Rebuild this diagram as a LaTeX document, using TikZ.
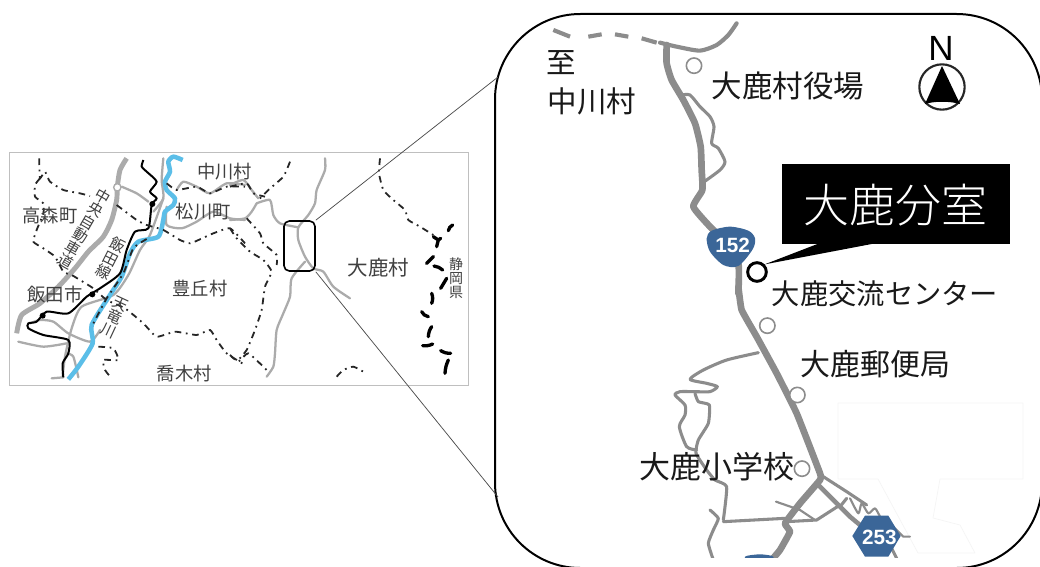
\documentclass[tikz,border=0pt]{standalone}
\usepackage{fontspec}
\setmainfont{Noto Sans CJK JP}
\newfontfamily\lightcjk{Noto Sans CJK JP Light}
\newfontfamily\latinbold{Liberation Sans}[BoldFont={* Bold}]
\newfontfamily\latinreg{Liberation Sans}
\newdimen\pxd
\newcommand{\pxfont}[1]{\pxd=#1pt \pxd=0.75\pxd \fontsize{\the\pxd}{\the\pxd}\selectfont}
\definecolor{roadgray}{HTML}{8C8C8C}
\definecolor{lightroad}{HTML}{ABABAB}
\definecolor{riverblue}{HTML}{5BBEE8}
\definecolor{shieldblue}{HTML}{3B6698}
\definecolor{ghost}{HTML}{F5F5F5}
\tikzset{
  x=0.75pt,y=-0.75pt,
  road/.style={draw=roadgray,line width=2.3pt,line join=round,line cap=round},
  thick road/.style={draw=roadgray,line width=5pt,line join=round,line cap=round},
  small road/.style={draw=lightroad,line width=1.7pt,line join=round,line cap=round},
  highway/.style={draw=lightroad,line width=3.7pt,line join=round},
  border line/.style={draw=black!85,line width=1.35pt,dash pattern=on 5pt off 3.5pt on 1.3pt off 3.5pt},
  pref line/.style={draw=black,line width=2.5pt,line cap=round},
  river/.style={draw=riverblue,line width=3.4pt,line join=round},
  rail/.style={draw=black,line width=1.5pt,line join=round},
  station/.style={circle,fill=black,inner sep=0pt,minimum size=4.5pt},
  facility/.style={circle,draw=roadgray,fill=white,line width=1.2pt,inner sep=0pt,minimum size=11.5pt},
  small label/.style={text=black!75,inner sep=0pt},
  big label/.style={text=black!90,inner sep=0pt},
  zoom line/.style={draw=black!70,line width=0.55pt},
  shield text/.style={text=white,inner sep=0pt,font=\latinbold\bfseries\fontsize{15.5pt}{15.5pt}\selectfont},
}
\begin{document}
\begin{tikzpicture}
\useasboundingbox (0,0) rectangle (1040,567);
\fill[white] (0,0) rectangle (1040,567);
% small map frame
\draw[draw=black!25,line width=0.7pt] (9,152) rectangle (468,385);
% small map, left part in zoom coordinates
\begin{scope}[shift={(0,140)},x=0.25pt,y=-0.25pt]
  \draw[highway] plot[smooth,tension=0.4] coordinates {(380,55)(360,90)(352,140)(350,180)(335,240)(310,290)(265,335)(225,385)(175,440)(120,490)(65,525)(50,580)};
  \draw[small road] plot[smooth,tension=0.4] coordinates {(365,140)(410,160)(445,185)};
  \draw[small road] plot[smooth,tension=0.4] coordinates {(490,55)(485,120)(490,175)(460,215)};
  \draw[small road] plot[smooth,tension=0.4] coordinates {(500,200)(500,255)(545,265)(590,245)(640,215)(690,235)(735,240)};
  \draw[small road] plot[smooth,tension=0.4] coordinates {(490,175)(450,285)(420,330)(385,405)(340,465)(245,500)(215,565)(195,650)(188,710)};
  \draw[small road] plot[smooth,tension=0.4] coordinates {(90,550)(120,540)(160,545)(205,580)(270,605)(300,570)};
  \draw[small road] plot[smooth,tension=0.4] coordinates {(55,605)(130,620)(200,610)};
  \draw[small road] (155,715) -- (190,712);
  \draw[small road] plot[smooth,tension=0.4] coordinates {(200,640)(220,650)(235,712)};
  \draw[small road] plot[smooth,tension=0.4] coordinates {(530,150)(550,125)(590,140)(630,160)(680,130)(735,135)};
  \node[circle,draw=lightroad,fill=white,line width=1pt,inner sep=0pt,minimum size=5.5pt] (icjunction) at (352,142) {};
  \draw[river] plot[smooth,tension=0.4] coordinates {(548,60)(520,50)(505,65)(510,95)(495,125)(500,150)(525,175)(520,195)(495,215)(490,240)(475,290)(415,305)(390,340)(365,410)(330,465)(275,555)(278,610)(235,680)(205,718)};
  \draw[rail] plot[smooth,tension=0.4] coordinates {(430,60)(425,80)(440,95)(470,125)(450,155)(470,175)(455,195)(445,265)(405,275)(380,330)(360,400)(300,445)(260,470)(205,520)(140,515)(110,545)(85,550)(85,565)(130,585)(205,600)(205,640)(188,670)(190,712)};
  \node[station] (st1) at (457,192) {};
  \node[station] (st2) at (277,463) {};
  \node[station] (st3) at (128,527) {};
  \draw[border line] plot[smooth,tension=0.3] coordinates {(118,55)(118,75)(120,115)(135,95)(150,125)(190,150)(240,160)(270,168)};
  \draw[border line] plot[smooth,tension=0.3] coordinates {(120,115)(105,135)(105,170)(130,190)(130,220)(110,270)(100,305)(130,325)(165,350)(190,395)(215,405)(240,420)(280,445)(320,480)(375,505)(430,550)(470,590)(525,575)(590,585)(630,570)(650,600)(680,640)(735,675)};
  \draw[border line] plot[smooth,tension=0.3] coordinates {(350,195)(410,240)(440,255)(490,270)(540,300)(570,310)(600,298)(640,280)(690,265)(735,310)};
  \draw[border line] plot[smooth,tension=0.3] coordinates {(500,130)(530,150)(590,140)(630,160)(680,140)(735,140)};
  \draw[border line] plot[smooth,tension=0.3] coordinates {(440,297)(400,325)(370,400)(320,475)(280,550)};
  \draw[border line] plot[smooth,tension=0.3] coordinates {(295,620)(340,625)(355,660)(310,660)(315,690)(335,715)};
  \node[small label,font=\pxfont{18.3}] (lTaka) at (150,228) {高森町};
  \node[small label,font=\pxfont{18.3}] (lMatsu) at (610,215) {松川町};
  \node[small label,font=\pxfont{18.3}] (lToyo) at (600,445) {豊丘村};
  \node[small label,font=\pxfont{18.3}] (lIida) at (165,465) {飯田市};
  \node[small label,font=\pxfont{18.3}] (lTaka2) at (553,702) {喬木村};
  \node[small label,font=\pxfont{15},rotate=-30,align=center] (lExp) at (253,265) {中\\央\\自\\動\\車\\道};
  \node[small label,font=\pxfont{15},rotate=-27,align=center] (lRail) at (332,355) {飯\\田\\線};
  \node[small label,font=\pxfont{15},rotate=-25,align=center] (lTen) at (343,532) {天\\竜\\川};
\end{scope}
% small map, right part in zoom coordinates
\begin{scope}[shift={(230,140)},x=0.25pt,y=-0.25pt]
  \draw[small road] plot[smooth,tension=0.4] coordinates {(285,55)(285,90)(260,150)(255,190)(235,225)(205,262)(205,300)(225,350)(250,385)(280,395)(310,440)(360,475)};
  \draw[small road] plot[smooth,tension=0.4] coordinates {(80,190)(120,180)(130,225)(150,250)(205,262)};
  \draw[small road] plot[smooth,tension=0.4] coordinates {(225,365)(185,415)(180,470)(160,520)(140,570)(135,640)(130,680)(110,710)};
  \draw[small road] plot[smooth,tension=0.4] coordinates {(0,240)(45,235)(65,215)(80,190)};
  \draw[small road] plot[smooth,tension=0.4] coordinates {(0,135)(40,120)(65,150)(85,175)};
  \draw[border line] plot[smooth,tension=0.3] coordinates {(180,65)(160,110)(115,150)(80,185)};
  \draw[border line] plot[smooth,tension=0.3] coordinates {(0,140)(50,130)(70,160)(105,170)};
  \draw[border line] plot[smooth,tension=0.3] coordinates {(50,235)(90,280)(100,310)(140,345)(140,375)};
  \draw[border line] plot[smooth,tension=0.3] coordinates {(0,265)(20,295)(60,335)(100,360)(125,395)(105,440)(95,510)(75,570)(50,630)(25,660)};
  \draw[border line] plot[smooth,tension=0.3] coordinates {(0,645)(25,665)(55,640)(110,690)};
  \draw[border line] plot[smooth,tension=0.3] coordinates {(320,710)(340,690)(370,680)(400,695)};
  \draw[border line] plot[smooth,tension=0.3] coordinates {(450,55)(447,100)(460,150)(490,180)(525,210)(535,240)(570,260)(610,285)};
  \draw[pref line] (668,255) to[bend right=25] (655,272);
  \draw[pref line] (610,290) -- (625,300) -- (620,320);
  \draw[pref line] (625,300) -- (632,295);
  \draw[pref line] (610,350) -- (590,370);
  \draw[pref line] (612,378) to[bend left=15] (638,390);
  \draw[pref line] (650,415) -- (632,445);
  \draw[pref line] (605,460) to[bend left=20] (605,490);
  \draw[pref line] (575,515) to[bend right=25] (595,530);
  \draw[pref line] (605,560) to[bend right=15] (595,590);
  \draw[pref line] (578,617) to[bend right=15] (608,612);
  \draw[pref line] (632,632) to[bend right=15] (662,640);
  \draw[pref line] (655,660) to[bend right=10] (645,700);
  \node[small label,font=\pxfont{20.5}] (lShika) at (445,382) {大鹿村};
  \node[small label,font=\pxfont{14},align=center] (lShizu) at (678,415) {静\\岡\\県};
  \node[small label,font=\pxfont{18.3}] (lNaka) at (-16,96) {中川村};
\end{scope}
% inset rectangle and big rounded box
\node[draw=black,line width=1.2pt,rounded corners=4pt,minimum width=23.25pt,minimum height=37.5pt,inner sep=0pt] (inset) at (299.5,246) {};
\node[draw=black,line width=1.5pt,rounded corners=64pt,fill=white,inner sep=0pt,minimum width=410.25pt,minimum height=415.5pt] (bigbox) at (768.5,291) {};
\coordinate (boxTop) at (498,77);
\coordinate (boxBot) at (498,497);
\draw[zoom line] (inset.north east) -- (boxTop);
\draw[zoom line] (inset.south east) -- (boxBot);
\draw[draw=ghost,line width=0.5pt,line join=round] (878,479) -- (838,479) -- (838,403) -- (1023,403) -- (1023,479) -- (940,479) -- (933,518) -- (960,525) -- (975,553) -- (918,553) -- (878,479);
% big map
\begin{scope}
\clip (480,0) rectangle (1040,557);
\begin{scope}[shift={(490,0)},x=0.25pt,y=-0.25pt]
  \draw[road,line width=3.1pt,line cap=butt] plot[smooth,tension=0.4] coordinates {(190,90)(240,110)};
  \draw[road,line width=3.1pt,line cap=butt] (295,110) -- (335,103);
  \draw[road,line width=3.1pt,line cap=butt] (375,103) -- (415,110);
  \draw[road,line width=3.1pt,line cap=butt] (455,115) -- (500,128);
  \draw[road,line width=3.1pt] plot[smooth,tension=0.4] coordinates {(510,128)(560,140)(630,152)(680,135)(715,105)(740,70)};
  \draw[road] plot[smooth,tension=0.4] coordinates {(575,285)(600,285)(630,320)(660,350)(672,380)(665,430)(685,445)(705,485)(690,510)(640,547)};
  \draw[thick road] plot[smooth,tension=0.3] coordinates {(530,135)(530,190)(545,240)(580,300)(615,370)(632,440)(635,510)(637,570)(610,620)(660,680)(700,720)(745,790)(745,880)};
\end{scope}
\begin{scope}[shift={(620,290)},x=0.25pt,y=-0.25pt]
  \draw[thick road] plot[smooth,tension=0.2] coordinates {(355,-10)(365,60)(410,140)(470,250)(530,370)(600,550)(600,570)(540,640)(495,700)(510,725)(480,780)(455,810)};
  \draw[road] plot[smooth,tension=0.4] coordinates {(415,188)(320,210)(250,240)(210,268)(260,280)(292,290)(270,305)(225,305)(180,305)(165,315)(195,345)(195,375)(178,410)(200,470)(230,480)};
  \draw[road] plot[smooth,tension=0.3] coordinates {(225,310)(235,335)(268,345)(265,400)(235,450)(228,490)(260,540)(285,570)(320,590)(310,690)};
  \draw[road] (310,695) -- (495,685);
  \draw[road] plot[smooth,tension=0.3] coordinates {(270,660)(295,685)(280,720)(265,760)(280,810)};
  \draw[road,line width=1.6pt] plot coordinates {(468,635)(540,660)(585,690)};
  \draw[road] plot coordinates {(500,695)(590,690)(660,645)};
  \draw[road,line width=3.4pt] plot coordinates {(595,585)(690,680)(720,705)};
  \draw[road] plot coordinates {(610,560)(680,605)(740,645)};
  \draw[road] (680,625) -- (660,650);
  \draw[road,line width=1.6pt] plot[smooth,tension=0.4] coordinates {(690,625)(715,670)(725,640)(745,670)(765,655)(780,680)};
  \draw[road,line width=1.6pt] plot coordinates {(825,715)(850,740)(870,740)};
  \draw[road] plot coordinates {(815,775)(830,805)};
  \node[facility] (fc1) at (442,107) {};
  \node[facility] (fc2) at (532,315) {};
  \node[facility] (fc3) at (546,536) {};
  \fill[shieldblue] plot[smooth cycle,tension=0.4] coordinates {(375,800)(420,793)(460,800)(450,830)(390,830)};
  \fill[shieldblue] (697,738) -- (735,677) -- (805,677) -- (842,738) -- (805,800) -- (735,800) -- cycle;
  \node[shield text] (s253) at (778,742) {253};
\end{scope}
\end{scope}
\begin{scope}[shift={(490,0)},x=0.25pt,y=-0.25pt]
  \node[facility] (fc0) at (612,197) {};
  \fill[shieldblue] plot[smooth cycle,tension=0.5] coordinates {(650,715)(665,692)(720,680)(775,692)(795,715)(788,748)(745,798)(700,795)(660,755)};
  \node[shield text] (s152) at (728,735) {152};
\end{scope}
\node[circle,draw=black,fill=white,line width=2.2pt,inner sep=0pt,minimum size=14pt] (mark) at (757,272) {};
% callout
\node[fill=black,inner sep=0pt,minimum width=171pt,minimum height=60pt] (callout) at (896,204) {};
\fill[black] (820,243) -- (877,243) -- (mark.north east) -- cycle;
\node[text=white,inner sep=0pt,font=\lightcjk\pxfont{46}] (lBun) at (895,205) {大鹿分室};
% labels
\node[big label,font=\pxfont{29.5}] (lItaru) at (561,63) {至};
\node[big label,font=\pxfont{29.5}] (lNakag) at (592,101) {中川村};
\node[big label,font=\pxfont{30.5}] (lYakuba) at (788,86) {大鹿村役場};
\node[big label,font=\pxfont{28.3}] (lKoryu) at (885,294) {大鹿交流センター};
\node[big label,font=\pxfont{30}] (lYubin) at (875,364) {大鹿郵便局};
\node[big label,font=\pxfont{31}] (lSho) at (717,467) {大鹿小学校};
% north mark
\node[inner sep=0pt,font=\latinreg\pxfont{35}] (lN) at (941,48) {N};
\node[circle,draw=black!85,line width=1.6pt,inner sep=0pt,minimum size=34pt] (compass) at (942,87) {};
\fill[black] (942,66) -- (960,104) .. controls (950,101) and (934,101) .. (925,104) -- cycle;
\end{tikzpicture}
\end{document}
